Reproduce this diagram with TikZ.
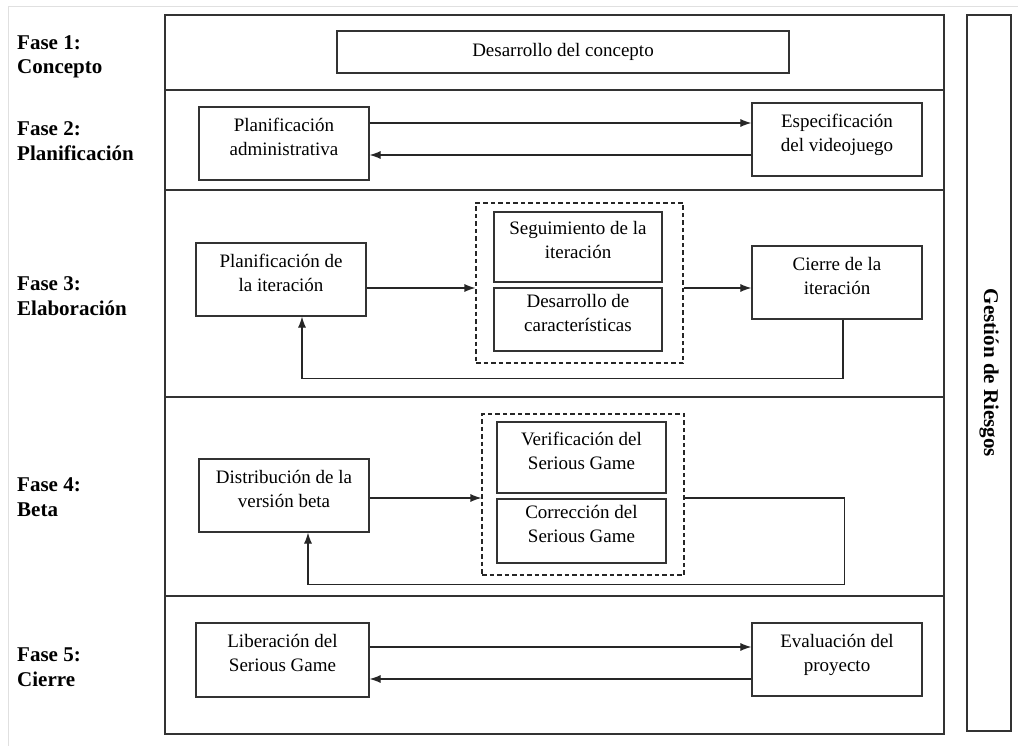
\documentclass[tikz,border=0pt]{standalone}
\usepackage{fontspec}
\setmainfont{Liberation Serif}
\usetikzlibrary{arrows.meta,calc}

\begin{document}
\begin{tikzpicture}[x=1pt,y=-1pt,
  frame/.style={line width=1.3pt, draw=black!80},
  box/.style={draw=black!80, line width=1.2pt, align=center, inner sep=0pt,
    font=\fontsize{19}{24}\selectfont, text depth=14pt},
  onebox/.style={draw=black!80, line width=1.2pt, inner sep=0pt,
    font=\fontsize{19}{24}\selectfont},
  group/.style={draw=black!85, line width=1.1pt, dash pattern=on 4.5pt off 3pt},
  phase/.style={anchor=west, align=left, inner sep=0pt,
    font=\fontsize{21}{24.5}\selectfont\bfseries},
  arr/.style={line width=1.1pt, draw=black!85, -{Latex[length=11pt,width=8pt]}},
  link/.style={line width=1.1pt, draw=black!85}]

\useasboundingbox (0,0) rectangle (1018,746);
\draw[black!12, line width=0.8pt] (8,746) -- (8,6) -- (1018,6);

% phase frame with its five bands
\draw[frame] (165,15) rectangle (944,734);
\foreach \yy in {90,190,397,596} \draw[frame] (165,\yy) -- (944,\yy);

% risk management column
\node[draw=black!80, line width=1.3pt, rotate=-90, minimum width=716pt,
  minimum height=44pt, inner sep=0pt,
  font=\fontsize{21}{24}\selectfont\bfseries] (gr) at (989,373) {Gestión de Riesgos};

% phase labels
\node[phase] (f1) at (17,57)  {Fase 1:\\Concepto};
\node[phase] (f2) at (17,141) {Fase 2:\\Planificación};
\node[phase] (f3) at (17,296) {Fase 3:\\Elaboración};
\node[phase] (f4) at (17,497) {Fase 4:\\Beta};
\node[phase] (f5) at (17,667) {Fase 5:\\Cierre};

% phase 1
\node[onebox, minimum width=452pt, minimum height=42pt] (dc0) at (563,52) {Desarrollo del concepto};

% phase 2
\node[box, minimum width=170pt, minimum height=73pt] (pa) at (284,143.5) {Planificación\\administrativa};
\node[box, minimum width=170pt, minimum height=73pt] (ev) at (837,139.5) {Especificación\\del videojuego};
\draw[arr] ([yshift=20.5pt]pa.east) -- ([yshift=20.5pt]pa.east -| ev.west);
\draw[arr] ([yshift=-11.5pt]pa.east -| ev.west) -- ([yshift=-11.5pt]pa.east);

% phase 3
\node[box, minimum width=170pt, minimum height=73pt] (pi) at (281,279.5) {Planificación de\\la iteración};
\node[group, minimum width=207pt, minimum height=160pt] (g3) at (579.5,283) {};
\node[box, minimum width=168pt, minimum height=70pt] (seg) at (578,247) {Seguimiento de la\\iteración};
\node[box, minimum width=168pt, minimum height=63pt] (dcar) at (578,319.5) {Desarrollo de\\características};
\node[box, minimum width=170pt, minimum height=73pt] (ci) at (837,282.5) {Cierre de la\\iteración};
\draw[arr] ([yshift=-8.5pt]pi.east) -- ([yshift=-8.5pt]pi.east -| g3.west);
\draw[arr] ([yshift=-5.5pt]ci.west -| g3.east) -- ([yshift=-5.5pt]ci.west);
\draw[arr] ([xshift=6pt]ci.south) -- ++(0pt,-59pt) -| ([xshift=21pt]pi.south);

% phase 4
\node[box, minimum width=170pt, minimum height=73pt] (db) at (284,495.5) {Distribución de la\\versión beta};
\node[group, minimum width=202pt, minimum height=161pt] (g4) at (583,494.5) {};
\node[box, minimum width=169pt, minimum height=71pt] (ver) at (581.5,457.5) {Verificación del\\Serious Game};
\node[box, minimum width=169pt, minimum height=64pt] (cor) at (581.5,531) {Corrección del\\Serious Game};
\draw[arr] ([yshift=-2.5pt]db.east) -- ([yshift=-2.5pt]db.east -| g4.west);
\draw[arr] ([yshift=-2.5pt]db.east -| g4.east) -- ++(160pt,0pt) -- ++(0pt,-86.5pt) -| ([xshift=24pt]db.south);

% phase 5
\node[box, minimum width=173pt, minimum height=74pt] (lib) at (282.5,660) {Liberación del\\Serious Game};
\node[box, minimum width=170pt, minimum height=73pt] (eva) at (837,659.5) {Evaluación del\\proyecto};
\draw[arr] ([yshift=13pt]lib.east) -- ([yshift=13pt]lib.east -| eva.west);
\draw[arr] ([yshift=-19pt]lib.east -| eva.west) -- ([yshift=-19pt]lib.east);

\end{tikzpicture}
\end{document}
